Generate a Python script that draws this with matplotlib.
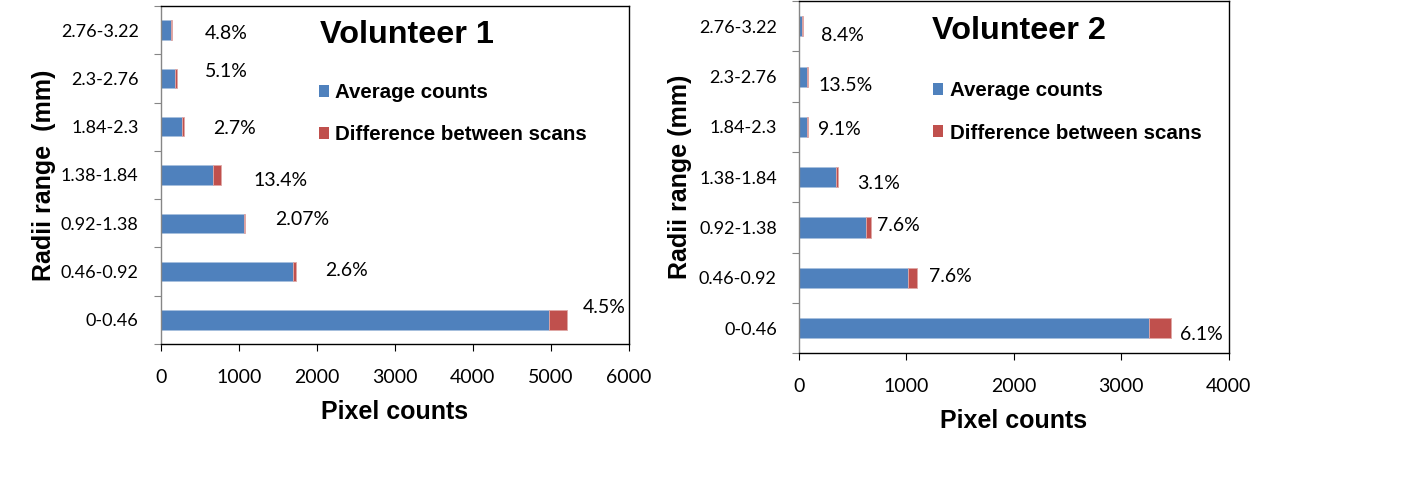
import matplotlib
matplotlib.use("Agg")
import matplotlib.pyplot as plt
from matplotlib.patches import Patch

categories = ["0-0.46", "0.46-0.92", "0.92-1.38", "1.38-1.84", "1.84-2.3", "2.3-2.76", "2.76-3.22"]

v1_avg = [4980, 1690, 1060, 670, 275, 185, 135]
v1_diff = [220, 40, 18, 105, 15, 15, 12]
v1_pct = ["4.5%", "2.6%", "2.07%", "13.4%", "2.7%", "5.1%", "4.8%"]

v2_avg = [3260, 1015, 625, 340, 72, 72, 28]
v2_diff = [200, 85, 45, 25, 10, 10, 10]
v2_pct = ["6.1%", "7.6%", "7.6%", "3.1%", "9.1%", "13.5%", "8.4%"]

# label placement (layout only)
v1_lab_x = [5410, 2110, 1460, 1190, 670, 565, 565]
v1_lab_dy = [0.25, 0.03, 0.08, -0.12, -0.04, 0.15, -0.06]
v2_lab_x = [3550, 1210, 730, 537, 174, 177, 202]
v2_lab_dy = [-0.12, 0.03, 0.05, -0.12, -0.06, -0.17, -0.18]

BLUE = "#4F81BD"
RED = "#C0504D"
NUMFONT = "Lato"
BOLDFONT = "Liberation Sans"

fig = plt.figure(figsize=(14.08, 4.98), dpi=100)

def draw(ax, avg, diff, pct, lab_x, lab_dy, xmax, title, title_x, title_y,
         leg_x, leg_y, ylabel, xlabelpad, ylabelpad):
    y = list(range(len(categories)))
    ax.barh(y, avg, height=0.4, color=BLUE, edgecolor="#A7C0DE", linewidth=0.6)
    ax.barh(y, diff, left=avg, height=0.4, color=RED, edgecolor="#E0A8A6", linewidth=0.6)
    ax.set_ylim(-0.5, len(categories) - 0.5)
    ax.set_xlim(0, xmax)
    ax.set_xticks(range(0, xmax + 1, 1000))
    ax.set_yticks([i - 0.5 for i in range(len(categories) + 1)], minor=False)
    ax.set_yticklabels([])
    ax.set_yticks(y, minor=True)
    ax.set_yticklabels(categories, minor=True, fontsize=13, family=NUMFONT)
    ax.tick_params(axis="y", which="minor", length=0, pad=16)
    ax.tick_params(axis="y", which="major", length=5, color="#868686", direction="out")
    ax.tick_params(axis="x", length=5, direction="out", labelsize=14, pad=13)
    for lab in ax.get_xticklabels():
        lab.set_family(NUMFONT)
    for s in ax.spines.values():
        s.set_linewidth(1.0)
        s.set_color("black")
    ax.spines["left"].set_color("#868686")
    for i in y:
        ax.text(lab_x[i], i + lab_dy[i], pct[i], fontsize=14, family=NUMFONT,
                ha="left", va="center")
    ax.text(title_x, title_y, title, transform=ax.transAxes, fontsize=23.3,
            fontweight="bold", family=BOLDFONT, ha="left", va="center")
    handles = [Patch(facecolor=BLUE, edgecolor="none", label="Average counts"),
               Patch(facecolor=RED, edgecolor="none", label="Difference between scans")]
    ax.legend(handles=handles, loc="upper left", bbox_to_anchor=(leg_x, leg_y),
              frameon=False, handlelength=0.5, handleheight=0.5,
              handletextpad=0.3, labelspacing=1.14, borderpad=0,
              borderaxespad=0,
              prop={"family": BOLDFONT, "weight": "bold", "size": 14.8})
    ax.set_xlabel("Pixel counts", fontsize=18, fontweight="bold", family=BOLDFONT,
                  labelpad=xlabelpad)
    ax.set_ylabel(ylabel, fontsize=18, fontweight="bold", family=BOLDFONT,
                  labelpad=ylabelpad)

ax1 = fig.add_axes([0.1143, 0.3092, 0.3324, 0.6788])
draw(ax1, v1_avg, v1_diff, v1_pct, v1_lab_x, v1_lab_dy, 6000, "Volunteer 1",
     0.34, 0.914, 0.337, 0.772, "Radii range  (mm)", 10, 3.5)

ax2 = fig.add_axes([0.5675, 0.2906, 0.3052, 0.707])
draw(ax2, v2_avg, v2_diff, v2_pct, v2_lab_x, v2_lab_dy, 4000, "Volunteer 2",
     0.31, 0.915, 0.312, 0.773, "Radii range (mm)", 10, 5)

fig.savefig("out.png", dpi=100)
